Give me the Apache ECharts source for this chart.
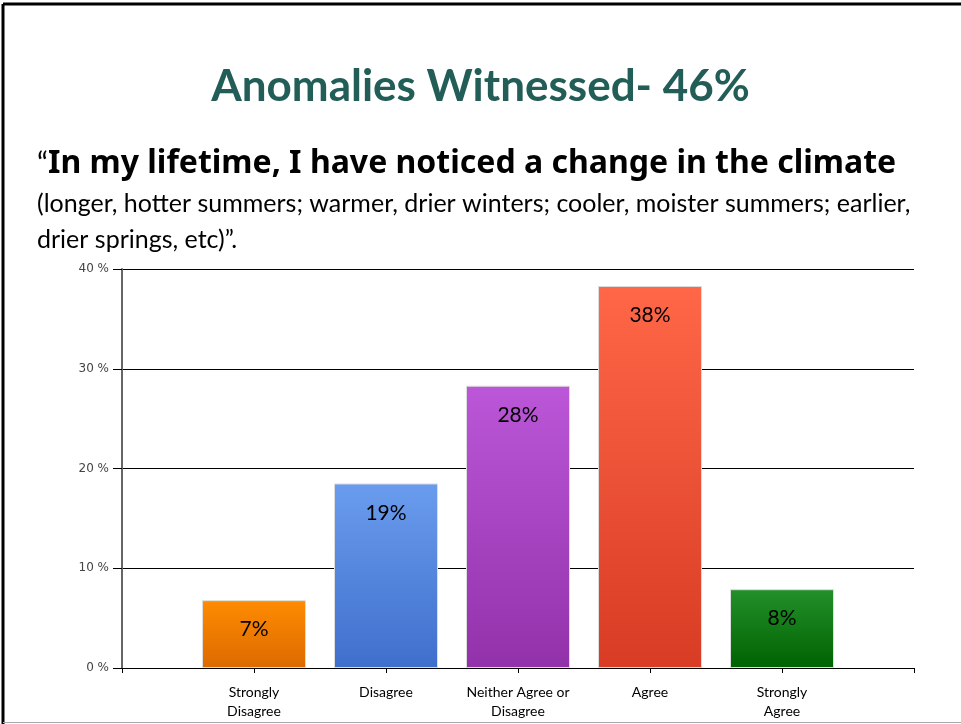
<!DOCTYPE html>
<html>
<head>
<meta charset="utf-8">
<script src="https://cdn.jsdelivr.net/npm/echarts@6.0.0/dist/echarts.min.js"></script>
<style>
html, body { margin: 0; padding: 0; background: #fff; }
#main { width: 961px; height: 724px; }
</style>
</head>
<body>
<div id="main"></div>
<script>
// answer categories, padded with empty slots at both ends so bars sit on the ticks
const categories = ['', 'Strongly\nDisagree', 'Disagree', 'Neither Agree or\nDisagree', 'Agree', 'Strongly\nAgree', ''];
const values = ['-', 6.8, 18.5, 28.3, 38.3, 7.9, '-'];
const valueLabels = ['', '7%', '19%', '28%', '38%', '8%', ''];
const yTicks = [0, 10, 20, 30, 40];
// top / bottom gradient colour for each bar
const barColors = [
	null,
	['#ff8c00', '#dd6a00'],
	['#6a9cee', '#3f6fcc'],
	['#bb57d8', '#9232aa'],
	['#ff6748', '#d83c24'],
	['#23902a', '#006200'],
	null,
];

const chart = echarts.init(document.getElementById('main'));
chart.setOption({
	backgroundColor: '#fff',
	animation: false,
	graphic: [
		// slide frame
		{ type: 'line', shape: { x1: 3, y1: 4, x2: 961, y2: 4 }, style: { stroke: '#000', lineWidth: 3 } },
		{ type: 'line', shape: { x1: 3, y1: 4, x2: 3, y2: 724 }, style: { stroke: '#000', lineWidth: 3 } },
		{ type: 'line', shape: { x1: 3, y1: 722.5, x2: 961, y2: 722.5 }, style: { stroke: '#aaa', lineWidth: 1 } },
		{
			type: 'text', left: 'center', top: 65,
			style: { text: 'Anomalies Witnessed- 46%', fill: '#225e57', font: 'bold 44px Lato' },
		},
		{
			type: 'text', left: 37, top: 148,
			style: {
				text: '{q|“}{b|In my lifetime, I have noticed a change in the climate}',
				rich: {
					q: { font: '30px Lato', fill: '#000' },
					b: { font: 'bold 32px "Noto Sans"', fill: '#000' },
				},
			},
		},
		{
			type: 'text', left: 37, top: 186,
			style: {
				text: '(longer, hotter summers; warmer, drier winters; cooler, moister summers; earlier,\ndrier springs, etc)”.',
				font: '25px Lato', fill: '#000', lineHeight: 36,
			},
		},
	],
	grid: { left: 122, right: 47, top: 269, bottom: 56 },
	xAxis: {
		type: 'category',
		data: categories,
		boundaryGap: false,
		axisLine: { lineStyle: { color: '#000', width: 1 } },
		axisTick: { length: 5, lineStyle: { color: '#000' } },
		axisLabel: { color: '#000', fontFamily: 'Lato', fontSize: 14, lineHeight: 19, margin: 15, interval: 0 },
	},
	yAxis: {
		type: 'value',
		min: yTicks[0],
		max: yTicks[yTicks.length - 1],
		interval: 10,
		axisLine: { show: true, lineStyle: { color: '#666', width: 2 } },
		axisTick: { show: true, length: 9, lineStyle: { color: '#000' } },
		axisLabel: { formatter: '{value} %', color: '#444', fontFamily: 'DejaVu Sans', fontSize: 12, margin: 13 },
		splitLine: { lineStyle: { color: '#000', width: 1 } },
	},
	series: [{
		type: 'bar',
		barWidth: 104,
		data: values.map((v, i) => ({
			value: v,
			itemStyle: barColors[i] ? {
				color: new echarts.graphic.LinearGradient(0, 0, 0, 1, [
					{ offset: 0, color: barColors[i][0] },
					{ offset: 1, color: barColors[i][1] },
				]),
				borderColor: '#ddd',
				borderWidth: 1,
			} : undefined,
		})),
		label: {
			show: true,
			position: 'insideTop',
			distance: 19,
			color: '#000',
			fontFamily: 'Lato',
			fontSize: 21,
			formatter: p => valueLabels[p.dataIndex],
		},
	}],
});
</script>
</body>
</html>
